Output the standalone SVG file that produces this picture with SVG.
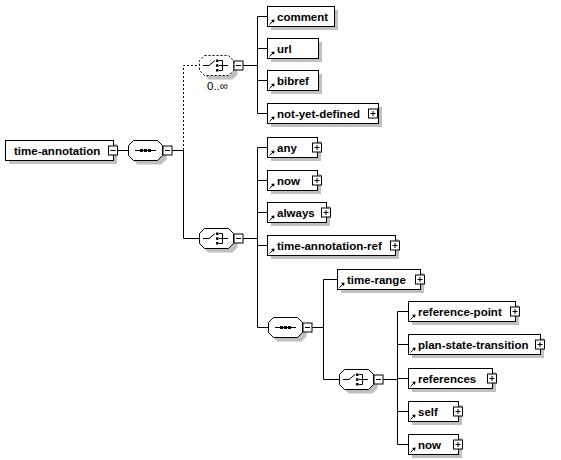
<svg xmlns="http://www.w3.org/2000/svg" xmlns:xlink="http://www.w3.org/1999/xlink" width="561" height="460" viewBox="0 0 561 460">
<style>
.bx{fill:#fff;stroke:#000;stroke-width:1}
.sh{fill:#c0c0c0;stroke:none}
.btn{fill:#fff;stroke:#000;stroke-width:1}
.ln{stroke:#000;stroke-width:1;fill:none}
.dash{stroke:#000;stroke-width:1;fill:none;stroke-dasharray:2,2}
.lbl{font-family:"Liberation Sans",Arial,sans-serif;font-weight:bold;font-size:11.5px;fill:#000}
.occ{font-family:"Liberation Sans",Arial,sans-serif;font-size:11.5px;fill:#000}
</style>
<defs>
<g id="refarrow"><path d="M2.5,18.5 L6,15" class="ln"/><polygon points="4,14 7.5,13.5 7,17" fill="#000"/></g>
<g id="plus"><rect class="btn" x="0.5" y="0.5" width="9" height="9"/><path class="ln" d="M2.5,5 H7.5 M5,2.5 V7.5"/></g>
<g id="minus"><rect class="btn" x="0.5" y="0.5" width="9" height="9"/><path class="ln" d="M2.5,5 H7.5"/></g>
<path id="oct" d="M5.5,0.5 H29.5 L34.5,5.5 V15.5 L29.5,20.5 H5.5 L0.5,15.5 V5.5 Z"/>
<g id="seqicon"><path class="ln" d="M7,10.5 H28"/><rect x="12" y="9" width="3" height="3" fill="#000"/><rect x="16" y="9" width="3" height="3" fill="#000"/><rect x="20" y="9" width="3" height="3" fill="#000"/></g>
<g id="choiceicon"><path class="ln" d="M4,10.5 H10 L16,5.5 M20,5.5 H23.5 V15.5 H20 M20,10.5 H29"/><rect x="17" y="4.5" width="2.5" height="2.5" fill="#000"/><rect x="17" y="9.3" width="2.5" height="2.5" fill="#000"/><rect x="17" y="14" width="2.5" height="2.5" fill="#000"/></g>
</defs>

<g id="connectors">
<path class="ln" d="M117,150.5 H128"/>
<path class="ln" d="M172,150.5 H183.5 V238.5 H199"/>
<path class="dash" d="M183.5,150 V65.5 H199"/>
<path class="ln" d="M242,65.5 H257.5 M257.5,16.5 V113.5 M257.5,16.5 H267 M257.5,48.5 H267 M257.5,80.5 H267 M257.5,113.5 H267"/>
<path class="ln" d="M242,238.5 H257.5 M257.5,147.5 V327.5 M257.5,147.5 H267 M257.5,180.5 H267 M257.5,212.5 H267 M257.5,245.5 H267 M257.5,327.5 H268"/>
<path class="ln" d="M312,327.5 H323.5 M323.5,279.5 V379.5 M323.5,279.5 H337 M323.5,379.5 H339"/>
<path class="ln" d="M382,379.5 H397.5 M397.5,311.5 V444.5 M397.5,311.5 H408 M397.5,344.5 H408 M397.5,378.5 H408 M397.5,411.5 H408 M397.5,444.5 H408"/>
</g>

<g id="n-time-annotation" transform="translate(5,140)">
<rect class="sh" x="4" y="4" width="108" height="20"/>
<rect class="bx" x="0.5" y="0.5" width="108" height="20"/>
<text class="lbl" x="9" y="14.5">time-annotation</text>
<use xlink:href="#minus" transform="translate(103,5.5)"/>
</g>

<g id="n-seq1" transform="translate(128,140)">
<use xlink:href="#oct" class="sh" transform="translate(4,4)"/>
<use xlink:href="#oct" class="bx"/>
<use xlink:href="#seqicon"/>
<use xlink:href="#minus" transform="translate(34.5,5.5)"/>
</g>

<g id="n-choice1" transform="translate(199,55)">
<use xlink:href="#oct" class="sh" transform="translate(4,4)"/>
<use xlink:href="#oct" fill="#fff" stroke="none"/>
<use xlink:href="#oct" class="dash"/>
<use xlink:href="#choiceicon"/>
<use xlink:href="#minus" transform="translate(34.5,5.5)"/>
<text class="occ" x="8" y="35" fill="#000">0..∞</text>
</g>

<g id="n-comment" transform="translate(267,6)">
<rect class="sh" x="4" y="4" width="67" height="20"/>
<rect class="bx" x="0.5" y="0.5" width="67" height="20"/>
<use xlink:href="#refarrow"/>
<text class="lbl" x="10" y="14.5">comment</text>
</g>
<g id="n-url" transform="translate(267,38)">
<rect class="sh" x="4" y="4" width="51" height="20"/>
<rect class="bx" x="0.5" y="0.5" width="51" height="20"/>
<use xlink:href="#refarrow"/>
<text class="lbl" x="10" y="14.5">url</text>
</g>
<g id="n-bibref" transform="translate(267,70)">
<rect class="sh" x="4" y="4" width="51" height="20"/>
<rect class="bx" x="0.5" y="0.5" width="51" height="20"/>
<use xlink:href="#refarrow"/>
<text class="lbl" x="10" y="14.5">bibref</text>
</g>
<g id="n-not-yet-defined" transform="translate(267,103)">
<rect class="sh" x="4" y="4" width="111" height="20"/>
<rect class="bx" x="0.5" y="0.5" width="111" height="20"/>
<use xlink:href="#refarrow"/>
<text class="lbl" x="10" y="14.5">not-yet-defined</text>
<use xlink:href="#plus" transform="translate(101,5.5)"/>
</g>

<g id="n-choice2" transform="translate(199,228)">
<use xlink:href="#oct" class="sh" transform="translate(4,4)"/>
<use xlink:href="#oct" class="bx"/>
<use xlink:href="#choiceicon"/>
<use xlink:href="#minus" transform="translate(34.5,5.5)"/>
</g>

<g id="n-any" transform="translate(267,137)">
<rect class="sh" x="4" y="4" width="50" height="20"/>
<rect class="bx" x="0.5" y="0.5" width="50" height="20"/>
<use xlink:href="#refarrow"/>
<text class="lbl" x="10" y="14.5">any</text>
<use xlink:href="#plus" transform="translate(45,5.5)"/>
</g>
<g id="n-now1" transform="translate(267,170)">
<rect class="sh" x="4" y="4" width="50" height="20"/>
<rect class="bx" x="0.5" y="0.5" width="50" height="20"/>
<use xlink:href="#refarrow"/>
<text class="lbl" x="10" y="14.5">now</text>
<use xlink:href="#plus" transform="translate(45,5.5)"/>
</g>
<g id="n-always" transform="translate(267,202)">
<rect class="sh" x="4" y="4" width="59" height="20"/>
<rect class="bx" x="0.5" y="0.5" width="59" height="20"/>
<use xlink:href="#refarrow"/>
<text class="lbl" x="10" y="14.5">always</text>
<use xlink:href="#plus" transform="translate(54,5.5)"/>
</g>
<g id="n-time-annotation-ref" transform="translate(267,235)">
<rect class="sh" x="4" y="4" width="128" height="20"/>
<rect class="bx" x="0.5" y="0.5" width="128" height="20"/>
<use xlink:href="#refarrow"/>
<text class="lbl" x="10" y="14.5">time-annotation-ref</text>
<use xlink:href="#plus" transform="translate(123,5.5)"/>
</g>

<g id="n-seq2" transform="translate(268,317)">
<use xlink:href="#oct" class="sh" transform="translate(4,4)"/>
<use xlink:href="#oct" class="bx"/>
<use xlink:href="#seqicon"/>
<use xlink:href="#minus" transform="translate(34.5,5.5)"/>
</g>

<g id="n-time-range" transform="translate(337,269)">
<rect class="sh" x="4" y="4" width="83" height="20"/>
<rect class="bx" x="0.5" y="0.5" width="83" height="20"/>
<use xlink:href="#refarrow"/>
<text class="lbl" x="10" y="14.5">time-range</text>
<use xlink:href="#plus" transform="translate(78,5.5)"/>
</g>

<g id="n-choice3" transform="translate(339,369)">
<use xlink:href="#oct" class="sh" transform="translate(4,4)"/>
<use xlink:href="#oct" class="bx"/>
<use xlink:href="#choiceicon"/>
<use xlink:href="#minus" transform="translate(34.5,5.5)"/>
</g>

<g id="n-reference-point" transform="translate(408,301)">
<rect class="sh" x="4" y="4" width="107" height="20"/>
<rect class="bx" x="0.5" y="0.5" width="107" height="20"/>
<use xlink:href="#refarrow"/>
<text class="lbl" x="10" y="14.5">reference-point</text>
<use xlink:href="#plus" transform="translate(102,5.5)"/>
</g>
<g id="n-plan-state-transition" transform="translate(408,334)">
<rect class="sh" x="4" y="4" width="132" height="20"/>
<rect class="bx" x="0.5" y="0.5" width="132" height="20"/>
<use xlink:href="#refarrow"/>
<text class="lbl" x="10" y="14.5">plan-state-transition</text>
<use xlink:href="#plus" transform="translate(127,5.5)"/>
</g>
<g id="n-references" transform="translate(408,368)">
<rect class="sh" x="4" y="4" width="84" height="20"/>
<rect class="bx" x="0.5" y="0.5" width="84" height="20"/>
<use xlink:href="#refarrow"/>
<text class="lbl" x="10" y="14.5">references</text>
<use xlink:href="#plus" transform="translate(79,5.5)"/>
</g>
<g id="n-self" transform="translate(408,401)">
<rect class="sh" x="4" y="4" width="50" height="20"/>
<rect class="bx" x="0.5" y="0.5" width="50" height="20"/>
<use xlink:href="#refarrow"/>
<text class="lbl" x="10" y="14.5">self</text>
<use xlink:href="#plus" transform="translate(45,5.5)"/>
</g>
<g id="n-now2" transform="translate(408,434)">
<rect class="sh" x="4" y="4" width="50" height="20"/>
<rect class="bx" x="0.5" y="0.5" width="50" height="20"/>
<use xlink:href="#refarrow"/>
<text class="lbl" x="10" y="14.5">now</text>
<use xlink:href="#plus" transform="translate(45,5.5)"/>
</g>
</svg>
